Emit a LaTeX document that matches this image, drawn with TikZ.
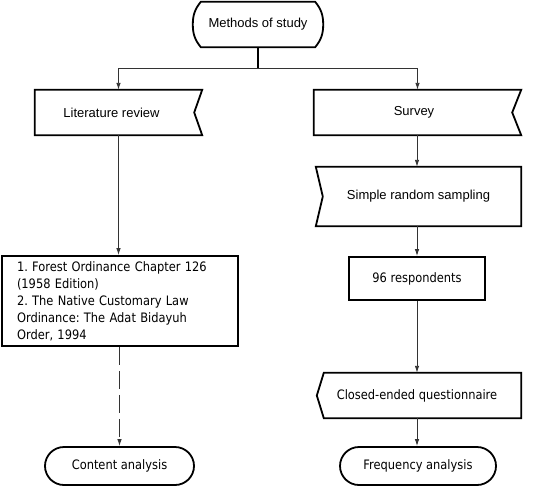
\documentclass[tikz,border=0pt]{standalone}
\usepackage{fontspec}
\setmainfont{Liberation Sans}
\newfontfamily\tah[FakeStretch=0.88]{DejaVu Sans}
\usetikzlibrary{arrows.meta}
\frenchspacing
\tikzset{
  x=1pt, y=1pt,
  boxline/.style={line width=1.8pt, black, line join=miter},
  txtA/.style={font=\fontsize{13}{16}\selectfont, inner sep=0pt},
  txtB/.style={font=\tah\fontsize{13}{17}\selectfont\frenchspacing, inner sep=0pt},
  stadium/.style={txtB, draw, boxline, rounded corners=19pt, minimum height=38pt},
  conn/.style={line width=0.9pt, black!80},
  arr/.style={conn, -{Latex[length=7pt,width=4.5pt]}},
}
\begin{document}
\begin{tikzpicture}
\useasboundingbox (0,0) rectangle (553,-487);

% nodes
\node[txtA, minimum width=130pt, minimum height=45pt] (m) at (258,-24.5) {Methods of study};
\node[txtA, minimum width=167pt, minimum height=45pt] (lit) at (118.5,-112.5) {\hspace*{-14pt}Literature review};
\node[txtA, minimum width=207pt, minimum height=45pt] (sur) at (417.5,-112.5) {\hspace*{-7pt}Survey};
\node[txtA, minimum width=205pt, minimum height=59pt] (srs) at (418.5,-196.5) {\raisebox{-2pt}{Simple random sampling}};
\node[txtB, draw, boxline, minimum width=136pt, minimum height=43pt] (res) at (417,-278.5) {96 respondents};
\node[txtB, minimum width=197pt, minimum height=45pt] (clo) at (422.5,-395.5) {\hspace*{-11pt}Closed-ended questionnaire};
\node[stadium, minimum width=156pt] (fre) at (418,-466) {Frequency analysis};
\node[txtB, draw, boxline, text width=206pt, inner xsep=15pt, minimum height=90pt, align=left] (law) at (120,-301)
  {1. Forest Ordinance Chapter 126\\(1958 Edition)\\2. The Native Customary Law\\Ordinance: The Adat Bidayuh\\Order, 1994};
\node[stadium, minimum width=149pt] (con) at (119.5,-466) {Content analysis};
\coordinate (j) at (258,-68);

% outlines
\draw[boxline] ([xshift=8]m.north west) -- ([xshift=-8]m.north east)
  to[out=-51,in=90] (m.east) to[out=-90,in=51] ([xshift=-8]m.south east)
  -- ([xshift=8]m.south west) to[out=129,in=-90] (m.west) to[out=90,in=-129] cycle;
\draw[boxline] (lit.north west) -- (lit.north east) -- ([xshift=-8]lit.east) -- (lit.south east) -- (lit.south west) -- cycle;
\draw[boxline] (sur.north west) -- (sur.north east) -- ([xshift=-9]sur.east) -- (sur.south east) -- (sur.south west) -- cycle;
\draw[boxline] (srs.north west) -- (srs.north east) -- (srs.south east) -- (srs.south west) -- ([xshift=7]srs.west) -- cycle;
\draw[boxline] (clo.north west) -- (clo.north east) -- (clo.south east) -- (clo.south west) -- ([xshift=-7]clo.west) -- cycle;

% connectors
\draw[line width=1.8pt] (m.south) -- (j);
\draw[arr] (j) -| (lit.north);
\draw[arr] (j) -| (sur.north);
\draw[arr] (lit.south) -- (lit.south |- law.north);
\draw[arr, dash pattern=on 18pt off 6pt] (con.north |- law.south) -- (con.north);
\draw[arr] (sur.south -| res.north) -- (srs.north -| res.north);
\draw[arr] (srs.south -| res.north) -- (res.north);
\draw[arr] (res.south) -- (res.south |- clo.north);
\draw[arr] (clo.south -| res.south) -- (fre.north -| res.south);
\end{tikzpicture}
\end{document}
